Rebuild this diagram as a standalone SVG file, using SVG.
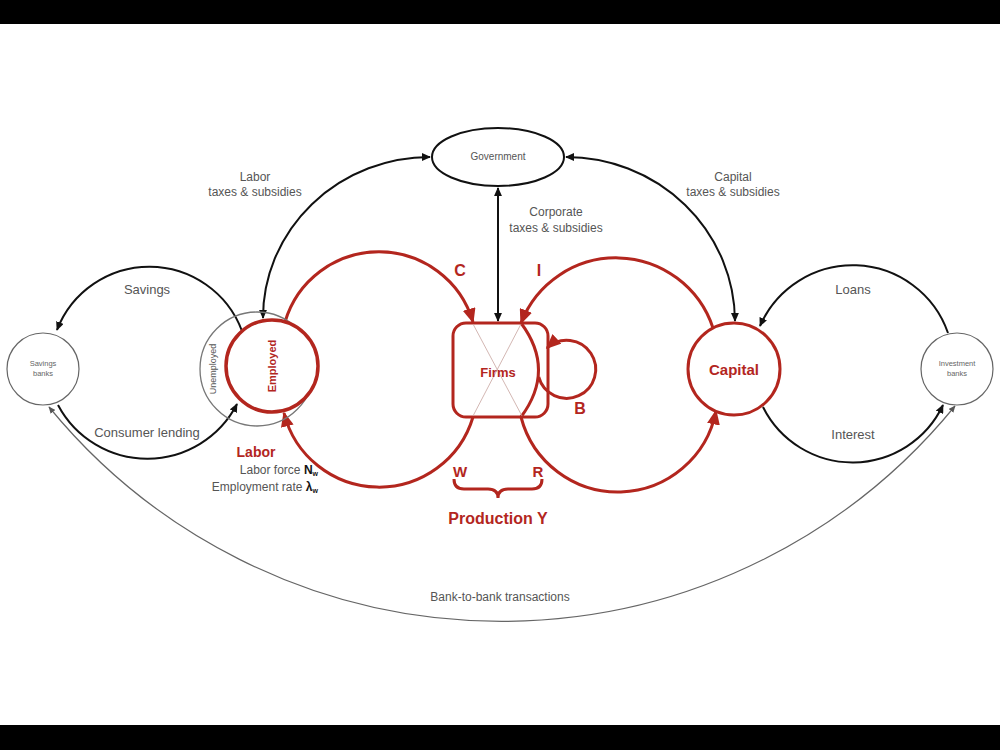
<svg xmlns="http://www.w3.org/2000/svg" width="1000" height="750" viewBox="0 0 1000 750">
<style>
.t{font-family:"Liberation Sans",Arial,sans-serif;fill:#555;text-anchor:middle}
.te{font-family:"Liberation Sans",Arial,sans-serif;fill:#555;text-anchor:end}
.r{font-family:"Liberation Sans",Arial,sans-serif;fill:#b3261e;font-weight:bold;text-anchor:middle}
.red{fill:none;stroke:#b3261e;stroke-width:3}
.blk{fill:none;stroke:#111;stroke-width:2}
.gry{fill:none;stroke:#666;stroke-width:1.2}
</style>
<defs>
<marker id="ar" viewBox="0 0 10 10" refX="9" refY="5" markerWidth="15" markerHeight="13" markerUnits="userSpaceOnUse" orient="auto-start-reverse" preserveAspectRatio="none"><path d="M0,0 L10,5 L0,10 z" fill="#b3261e"/></marker>
<marker id="ab" viewBox="0 0 10 10" refX="9" refY="5" markerWidth="9" markerHeight="8" markerUnits="userSpaceOnUse" orient="auto-start-reverse" preserveAspectRatio="none"><path d="M0,0 L10,5 L0,10 z" fill="#111"/></marker>
<marker id="ag" viewBox="0 0 10 10" refX="9" refY="5" markerWidth="7" markerHeight="6" markerUnits="userSpaceOnUse" orient="auto-start-reverse" preserveAspectRatio="none"><path d="M0,0 L10,5 L0,10 z" fill="#555"/></marker>
</defs>
<rect width="1000" height="750" fill="#fff"/>
<rect x="0" y="0" width="1000" height="24" fill="#000"/>
<rect x="0" y="725" width="1000" height="25" fill="#000"/>

<g id="connectors">
<path class="gry" d="M49 407 A585 585 0 0 0 955 406" marker-start="url(#ag)" marker-end="url(#ag)"/>
<path class="blk" d="M242 331 A99 99 0 0 0 57 330" marker-end="url(#ab)"/>
<path class="blk" d="M58 405 A101 101 0 0 0 237 404" marker-end="url(#ab)"/>
<path class="blk" d="M948 333 A101 101 0 0 0 760 326" marker-end="url(#ab)"/>
<path class="blk" d="M763 407 A100 100 0 0 0 943 405" marker-end="url(#ab)"/>
<path class="blk" d="M263 318 A167 161 0 0 1 430 157" marker-start="url(#ab)" marker-end="url(#ab)"/>
<path class="blk" d="M566 157 A169 165 0 0 1 735 321" marker-start="url(#ab)" marker-end="url(#ab)"/>
<path class="blk" d="M498 321 L498 188" marker-start="url(#ab)" marker-end="url(#ab)"/>
<path class="red" d="M285 322 A98 98 0 0 1 473 322" marker-end="url(#ar)"/>
<path class="red" d="M473 417 A98 98 0 0 1 284 413" marker-end="url(#ar)"/>
<path class="red" d="M713 328 A102 102 0 0 0 521 323" marker-end="url(#ar)"/>
<path class="red" d="M521 323 Q556 370 521 417 A100 100 0 0 0 716 411" marker-end="url(#ar)"/>
<path class="red" d="M538.7 376.9 A29 29 0 1 0 547 348" marker-end="url(#ar)"/>
<path class="red" d="M454 479 Q454 489 464 489 L488 489 Q498 489 498 498 Q498 489 508 489 L532 489 Q542 489 542 479"/>
</g>

<g id="government">
<ellipse cx="498" cy="157" rx="66" ry="29" fill="#fff" stroke="#111" stroke-width="2"/>
<text class="t" x="498" y="160" font-size="10">Government</text>
</g>

<g id="savings-banks">
<circle cx="43" cy="369" r="36" fill="#fff" stroke="#666" stroke-width="1.2"/>
<text class="t" x="43" y="366" font-size="7.5" style="fill:#666">Savings</text>
<text class="t" x="43" y="376" font-size="7.5" style="fill:#666">banks</text>
</g>

<g id="investment-banks">
<circle cx="957" cy="369" r="36" fill="#fff" stroke="#666" stroke-width="1.2"/>
<text class="t" x="957" y="366" font-size="7.5" style="fill:#666">Investment</text>
<text class="t" x="957" y="376" font-size="7.5" style="fill:#666">banks</text>
</g>

<g id="labor">
<circle cx="257" cy="369" r="57" fill="none" stroke="#777" stroke-width="1.3"/>
<text class="t" transform="translate(216 369) rotate(-90)" font-size="9">Unemployed</text>
<circle cx="272" cy="366" r="46" fill="#fff" stroke="#b3261e" stroke-width="3.5"/>
<text class="r" transform="translate(276 366) rotate(-90)" font-size="11">Employed</text>
<text class="r" x="256" y="457" font-size="14">Labor</text>
<text class="te" x="318" y="474" font-size="12">Labor force <tspan font-weight="bold" style="fill:#111">N</tspan><tspan font-weight="bold" style="fill:#111" font-size="7" dy="2">w</tspan></text>
<text class="te" x="318" y="491" font-size="12">Employment rate <tspan font-weight="bold" style="fill:#111">λ</tspan><tspan font-weight="bold" style="fill:#111" font-size="7" dy="2">w</tspan></text>
</g>

<g id="firms">
<rect x="453" y="323" width="95" height="94" rx="13" fill="none" stroke="#b3261e" stroke-width="3"/>
<line x1="473" y1="324" x2="522" y2="416" stroke="#c8a4a0" stroke-width="0.8"/>
<line x1="521" y1="324" x2="473" y2="416" stroke="#c8a4a0" stroke-width="0.8"/>
<text class="r" x="498" y="377" font-size="13">Firms</text>
</g>

<g id="capital">
<circle cx="734" cy="369" r="46" fill="#fff" stroke="#b3261e" stroke-width="3"/>
<text class="r" x="734" y="375" font-size="15">Capital</text>
</g>

<g id="labels">
<text class="t" x="255" y="181" font-size="12">Labor</text>
<text class="t" x="255" y="196" font-size="12">taxes &amp; subsidies</text>
<text class="t" x="733" y="181" font-size="12">Capital</text>
<text class="t" x="733" y="196" font-size="12">taxes &amp; subsidies</text>
<text class="t" x="556" y="216" font-size="12">Corporate</text>
<text class="t" x="556" y="232" font-size="12">taxes &amp; subsidies</text>
<text class="t" x="147" y="294" font-size="13">Savings</text>
<text class="t" x="853" y="294" font-size="13">Loans</text>
<text class="t" x="147" y="437" font-size="13">Consumer lending</text>
<text class="t" x="853" y="439" font-size="13">Interest</text>
<text class="t" x="500" y="601" font-size="12">Bank-to-bank transactions</text>
<text class="r" x="460" y="276" font-size="16">C</text>
<text class="r" x="539" y="276" font-size="16">I</text>
<text class="r" x="580" y="414" font-size="16">B</text>
<text class="r" x="460" y="477" font-size="15">W</text>
<text class="r" x="538" y="477" font-size="15">R</text>
<text class="r" x="498" y="524" font-size="16">Production Y</text>
</g>
</svg>
